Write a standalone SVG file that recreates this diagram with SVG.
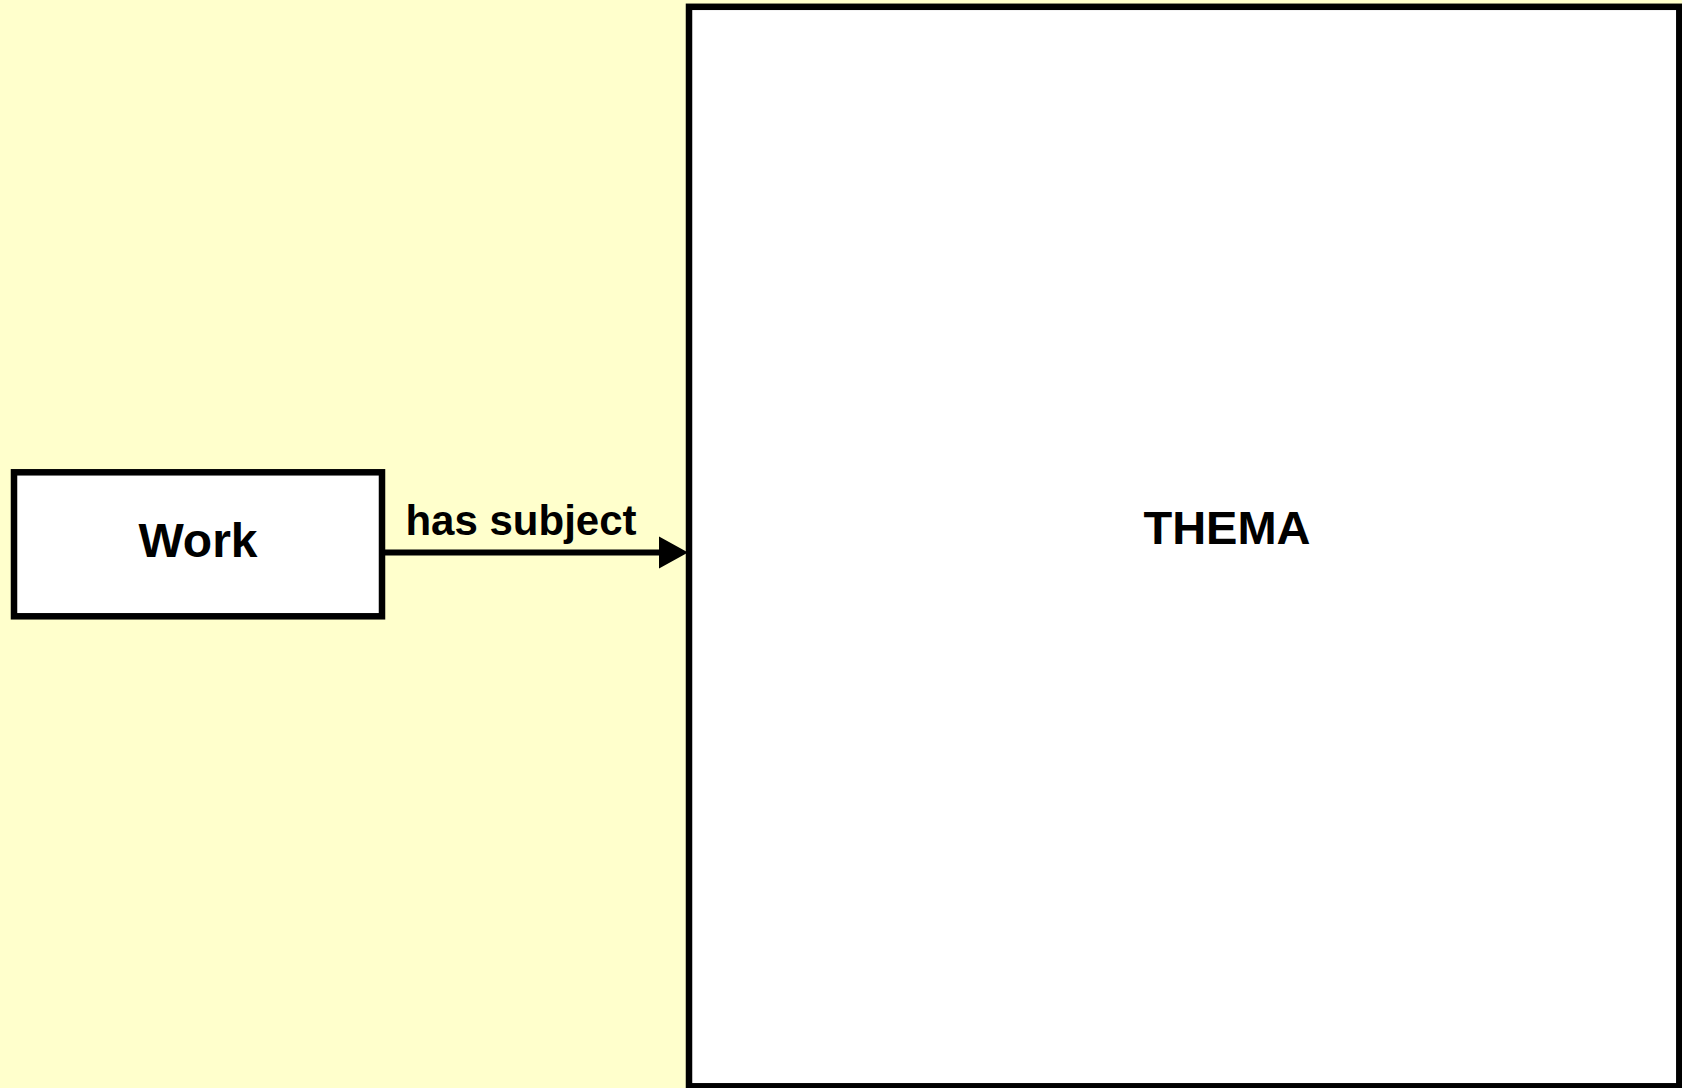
<svg xmlns="http://www.w3.org/2000/svg" width="1682" height="1088" viewBox="0 0 1682 1088">
<defs>
<style>
.box{fill:#ffffff;stroke:#000000;stroke-width:6.5}
.lbl{font-family:"Liberation Sans",Arial,sans-serif;font-weight:bold;fill:#000000;text-anchor:middle}
.edge{stroke:#000000;stroke-width:6;fill:none}
</style>
<marker id="arrow" markerUnits="userSpaceOnUse" markerWidth="30" markerHeight="32" refX="0" refY="16" orient="auto" overflow="visible">
<path d="M0,0 L29,16 L0,32 Z" fill="#000000"/>
</marker>
</defs>
<rect x="0" y="0" width="1682" height="1088" fill="#ffffcc"/>
<g id="thema">
<rect class="box" x="689" y="6.8" width="990.3" height="1079.5"/>
<text class="lbl" x="1227" y="544" font-size="47">THEMA</text>
</g>
<g id="work">
<rect class="box" x="14" y="472.3" width="368" height="144"/>
<text class="lbl" x="198" y="557" font-size="48">Work</text>
</g>
<g id="connectors">
<line class="edge" x1="385" y1="552.5" x2="659" y2="552.5" marker-end="url(#arrow)"/>
<text class="lbl" x="521" y="535" font-size="42">has subject</text>
</g>
</svg>
